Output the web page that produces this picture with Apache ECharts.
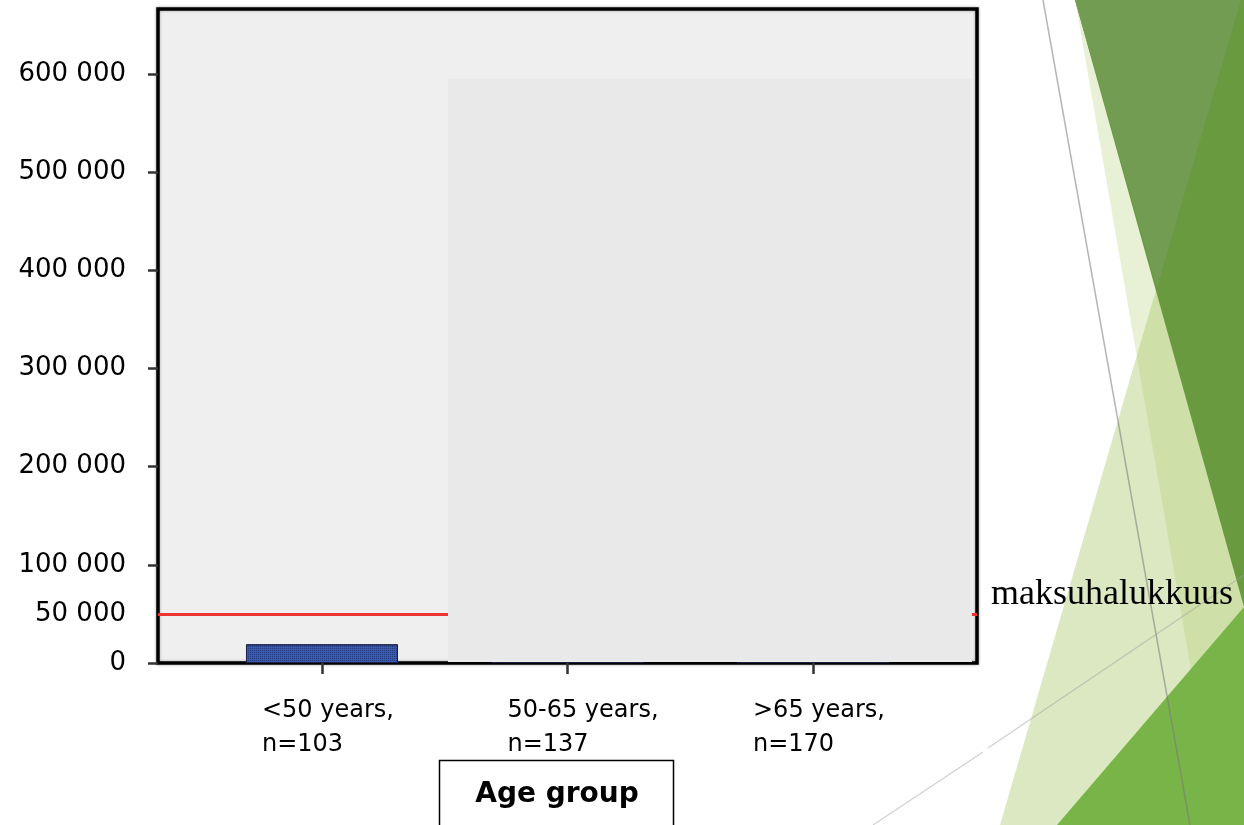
<!DOCTYPE html>
<html>
<head>
<meta charset="utf-8">
<script src="https://cdn.jsdelivr.net/npm/echarts@6/dist/echarts.min.js"></script>
<style>
html,body{margin:0;padding:0;background:#fff;}
#chart{width:1244px;height:825px;}
</style>
</head>
<body>
<div id="chart"></div>
<script>
// ---- data ----
const categories = ['<50 years,\nn=103', '50-65 years,\nn=137', '>65 years,\nn=170'];
const values = [19000, 1500, 1500];
const yTickValues = [0, 100000, 200000, 300000, 400000, 500000, 600000];
const yLabelValues = [0, 50000, 100000, 200000, 300000, 400000, 500000, 600000];
const thresholdValue = 50000;
const thresholdLabel = 'maksuhalukkuus';
const axisTitle = 'Age group';

// ---- layout helpers ----
const X_MIN = 0.332, X_MAX = 3.668;
const LABEL_SHIFT = 0.2444; // labels left-aligned a little left of each tick
const catPos = categories.map((c, i) => i + 1);

function fmtThousands(v) {
  return String(v).replace(/\B(?=(\d{3})+(?!\d))/g, ' ');
}

const chart = echarts.init(document.getElementById('chart'), null, {renderer: 'canvas'});

const option = {
  animation: false,
  backgroundColor: '#ffffff',
  grid: {
    left: 158, right: 267, top: 9, bottom: 162,
    show: true,
    backgroundColor: '#efefef',
    borderColor: '#000000',
    borderWidth: 3.5,
    shadowColor: 'rgba(0,0,0,0.35)',
    shadowBlur: 3,
    containLabel: false
  },
  xAxis: {
    type: 'value',
    min: X_MIN, max: X_MAX,
    axisLine: {show: false},
    splitLine: {show: false},
    axisTick: {
      show: true, length: 11,
      customValues: catPos,
      lineStyle: {color: '#333', width: 2.5}
    },
    axisLabel: {
      show: true,
      customValues: catPos.map(p => p - LABEL_SHIFT),
      formatter: function (v) { return categories[Math.round(v + LABEL_SHIFT) - 1]; },
      align: 'left',
      margin: 31,
      fontFamily: 'DejaVu Sans',
      fontSize: 24,
      lineHeight: 34,
      color: '#000'
    }
  },
  yAxis: {
    type: 'value',
    min: 0, max: 666000,
    axisLine: {show: false},
    splitLine: {show: false},
    axisTick: {
      show: true, length: 10,
      customValues: yTickValues,
      lineStyle: {color: '#333', width: 2.5}
    },
    axisLabel: {
      show: true,
      customValues: yLabelValues,
      formatter: fmtThousands,
      margin: 32,
      fontFamily: 'DejaVu Sans',
      fontSize: 26,
      color: '#000'
    }
  },
  series: [{
    type: 'bar',
    data: catPos.map((p, i) => [p, values[i]]),
    barWidth: 152,
    itemStyle: {
      color: '#3a59b0',
      borderColor: '#1b2345',
      borderWidth: 1,
      decal: {
        symbol: 'rect',
        symbolSize: 1,
        dashArrayX: [1, 1],
        dashArrayY: [1, 1],
        color: 'rgba(15,25,70,0.45)'
      }
    },
    markLine: {
      silent: true,
      symbol: 'none',
      label: {show: false},
      lineStyle: {color: '#ee3333', width: 3, type: 'solid'},
      data: [{yAxis: thresholdValue}]
    }
  }],
  graphic: [
    // slide decoration (right side)
    {type: 'polygon', z: 1, shape: {points: [[1076, 5], [1218, 825], [1244, 825], [1244, 0]]},
     style: {fill: 'rgba(165,197,95,0.26)'}},
    {type: 'polygon', z: 2, shape: {points: [[1156, 290], [1244, 290], [1244, 825], [1000, 825]]},
     style: {fill: 'rgba(165,197,95,0.39)'}},
    {type: 'polygon', z: 3, shape: {points: [[1075, 0], [1244, 0], [1244, 607]]},
     style: {fill: '#699a3f'}},
    {type: 'polygon', z: 4, shape: {points: [[1075, 0], [1241, 0], [1157, 288]]},
     style: {fill: '#719c52'}},
    {type: 'polygon', z: 5, shape: {points: [[1057, 825], [1244, 607], [1244, 825]]},
     style: {fill: '#79b448'}},
    {type: 'line', z: 6, shape: {x1: 1043, y1: 0, x2: 1190, y2: 825},
     style: {stroke: 'rgba(120,120,120,0.55)', lineWidth: 1.5}},
    {type: 'line', z: 6, shape: {x1: 873, y1: 825, x2: 983, y2: 752},
     style: {stroke: 'rgba(160,160,160,0.5)', lineWidth: 1.2}},
    {type: 'line', z: 6, shape: {x1: 988, y1: 748, x2: 1244, y2: 575},
     style: {stroke: 'rgba(160,160,160,0.5)', lineWidth: 1.2}},
    // cover panel over the right part of the plot
    {type: 'rect', z: 100, shape: {x: 448, y: 79, width: 524, height: 583},
     style: {fill: '#e9e9e9'}},
    // threshold label
    {type: 'text', z: 110, x: 991, y: 595,
     style: {text: thresholdLabel, fontFamily: 'Liberation Serif', fontSize: 36, fill: '#000',
             align: 'left', verticalAlign: 'middle'}},
    // axis title box
    {type: 'rect', z: 110, shape: {x: 439.5, y: 760.5, width: 234, height: 80},
     style: {fill: '#ffffff', stroke: '#000', lineWidth: 1.5}},
    {type: 'text', z: 111, x: 557, y: 795,
     style: {text: axisTitle, fontFamily: 'DejaVu Sans', fontWeight: 'bold', fontSize: 28, fill: '#000',
             align: 'center', verticalAlign: 'middle'}}
  ]
};
chart.setOption(option);
</script>
</body>
</html>
